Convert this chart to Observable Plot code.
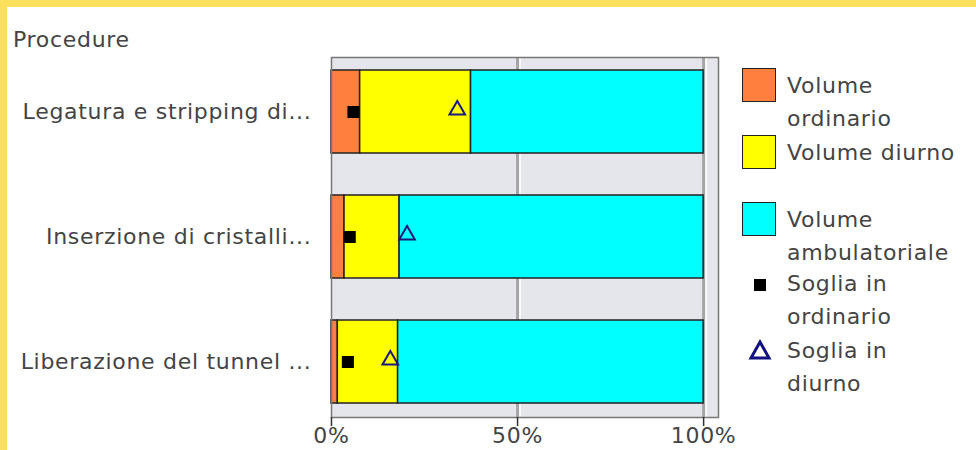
<!DOCTYPE html>
<html>
<head>
<meta charset="utf-8">
<script src="https://cdn.jsdelivr.net/npm/d3@7"></script>
<script src="https://cdn.jsdelivr.net/npm/@observablehq/plot@0.6"></script>
<style>
  html, body { margin: 0; padding: 0; background: #fff; }
  #wrap { position: relative; width: 976px; height: 450px; overflow: hidden; background: #fff;
          font-family: "DejaVu Sans", sans-serif; color: #444; letter-spacing: 0.7px; }
  #chart { position: absolute; left: 0; top: 0; }
  .border { position: absolute; background: #fce05b; }
  #title { position: absolute; left: 13px; top: 26px; font-size: 22px; line-height: 28px; }
  .leg { position: absolute; left: 742px; }
  .leg .sw { position: absolute; left: 0; top: 0; width: 32px; height: 32px; border: 1.5px solid #222; }
  .leg .sym { position: absolute; left: 0; top: 0; }
  .leg .txt { position: absolute; left: 45px; top: 0; width: 174px; font-size: 22px; line-height: 33px; }
</style>
</head>
<body>
<div id="wrap">
  <div id="chart"></div>
  <div id="title">Procedure</div>
  <div id="legend"></div>
  <div class="border" style="left:0;top:0;width:976px;height:7px"></div>
  <div class="border" style="left:0;top:0;width:7px;height:450px"></div>
</div>
<script>
const categories = ["Legatura e stripping di...", "Inserzione di cristalli...", "Liberazione del tunnel ..."];
const seriesNames = ["Volume ordinario", "Volume diurno", "Volume ambulatoriale"];
const seriesColors = ["#ff7f3f", "#ffff00", "#00ffff"];
const volOrdinario = [0.077, 0.035, 0.017];
const volDiurno = [0.298, 0.148, 0.162];
const volAmbulatoriale = [0.625, 0.817, 0.821];
const sogliaOrdinario = [0.059, 0.049, 0.044];
const sogliaDiurno = [0.338, 0.203, 0.158];
const markerNames = ["Soglia in ordinario", "Soglia in diurno"];
const xTicks = [0, 0.5, 1];

const seriesValues = [volOrdinario, volDiurno, volAmbulatoriale];
const rows = [];
categories.forEach((c, i) => {
  seriesNames.forEach((s, j) => rows.push({cat: c, series: s, value: seriesValues[j][i]}));
});
const thrOrd = categories.map((c, i) => ({cat: c, value: sogliaOrdinario[i]}));
const thrDiu = categories.map((c, i) => ({cat: c, value: sogliaDiurno[i]}));

const chart = Plot.plot({
  width: 745,
  height: 450,
  marginLeft: 331,
  marginRight: 27,
  marginTop: 57,
  marginBottom: 33,
  style: {fontFamily: "DejaVu Sans, sans-serif", fontSize: "22px", color: "#444", background: "transparent", letterSpacing: "0.7px"},
  x: {domain: [0, 1.04], label: null},
  y: {domain: categories, paddingInner: 0.333, paddingOuter: 0.1, label: null},
  color: {domain: seriesNames, range: seriesColors},
  marks: [
    Plot.frame({fill: "#e5e5ec", stroke: null}),
    Plot.ruleX(xTicks.slice(1), {stroke: "#a5a5a8", strokeWidth: 3}),
    Plot.ruleX(xTicks.slice(1), {stroke: "#ffffff", strokeWidth: 1.5, dx: 2.5}),
    Plot.barX(rows, Plot.stackX({x: "value", y: "cat", fill: "series", order: seriesNames, stroke: "#222", strokeWidth: 1.5})),
    Plot.dot(thrOrd, {x: "value", y: "cat", symbol: "square", r: 6.8, fill: "#000"}),
    Plot.dot(thrDiu, {x: "value", y: "cat", symbol: "triangle", r: 5.8, fill: "none", stroke: "#1a1a7a", strokeWidth: 2, dy: -2}),
    Plot.frame({stroke: "#777", strokeWidth: 1.5}),
    Plot.axisX({ticks: xTicks, tickFormat: d3.format(".0%"), tickSize: 9, tickPadding: 1, fontSize: 22, stroke: "#333", strokeWidth: 1.5, fill: "#444"}),
    Plot.axisY({tickSize: 0, tickPadding: 20, fontSize: 22, fill: "#444"})
  ]
});
document.getElementById("chart").appendChild(chart);

// Legend
const legend = document.getElementById("legend");
const tops = [68, 135, 202, 267, 334];
seriesNames.forEach((s, i) => {
  const d = document.createElement("div");
  d.className = "leg";
  d.style.top = tops[i] + "px";
  d.innerHTML = `<div class="sw" style="background:${seriesColors[i]}"></div><div class="txt" style="top:1px">${s}</div>`;
  legend.appendChild(d);
});
const symbolsSvg = [
  `<svg class="sym" width="36" height="34" style="left:0;top:0"><rect x="12" y="12" width="12" height="12" fill="#000"/></svg>`,
  `<svg class="sym" width="36" height="34" style="left:0;top:0"><path d="M18,8 L27,24 L9,24 Z" fill="#fff" stroke="#10107f" stroke-width="3" stroke-linejoin="miter"/></svg>`
];
markerNames.forEach((s, i) => {
  const d = document.createElement("div");
  d.className = "leg";
  d.style.top = tops[3 + i] + "px";
  d.innerHTML = symbolsSvg[i] + `<div class="txt">${s}</div>`;
  legend.appendChild(d);
});
</script>
</body>
</html>
